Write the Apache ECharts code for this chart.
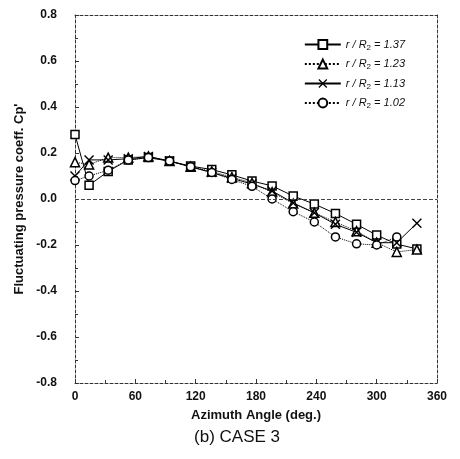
<!DOCTYPE html>
<html><head><meta charset="utf-8">
<script src="https://cdn.jsdelivr.net/npm/echarts@6/dist/echarts.min.js"></script>
<style>html,body{margin:0;padding:0;background:#fff}#c{width:460px;height:459px}</style>
</head><body><div id="c"></div>
<script>
var angles = [0, 14, 33, 53, 73, 94, 115, 136, 156, 176, 196, 217, 238, 259, 280, 300, 320, 340];
var s137 = [0.28, 0.06, 0.12, 0.17, 0.18, 0.165, 0.143, 0.128, 0.105, 0.078, 0.057, 0.013, -0.022, -0.063, -0.11, -0.157, -0.196, -0.217];
var s123 = [0.16, 0.15, 0.18, 0.18, 0.185, 0.165, 0.14, 0.12, 0.095, 0.07, 0.03, -0.02, -0.06, -0.10, -0.14, -0.19, -0.23, -0.22];
var s113 = [0.10, 0.17, 0.17, 0.175, 0.185, 0.165, 0.14, 0.115, 0.09, 0.065, 0.035, -0.017, -0.06, -0.11, -0.145, -0.19, -0.19, -0.105];
var s102 = [0.08, 0.10, 0.125, 0.17, 0.18, 0.165, 0.14, 0.115, 0.085, 0.055, 0.0, -0.055, -0.10, -0.165, -0.195, -0.20, -0.165, null];
var seriesNames = ['1.37', '1.23', '1.13', '1.02'];
var xTicks = [0, 60, 120, 180, 240, 300, 360];
var yTicks = [-0.8, -0.6, -0.4, -0.2, 0.0, 0.2, 0.4, 0.6, 0.8];

function pairs(v){ return angles.map(function(a,i){ return [a, v[i]]; }); }
var xSym = 'path://M0,1L1,0L5,4L9,0L10,1L6,5L10,9L9,10L5,6L1,10L0,9L4,5Z';
var styles = [
  {sym:'rect', size:8, type:'solid'},
  {sym:'triangle', size:9, type:'dotted'},
  {sym:xSym, size:10, type:'solid'},
  {sym:'circle', size:8, type:'dotted'}
];
var dataSets = [s137, s123, s113, s102];
var series = dataSets.map(function(d, i){
  var st = styles[i];
  var isX = i === 2;
  var s = {
    name: seriesNames[i], type:'line', data: pairs(d),
    symbol: st.sym, symbolSize: st.size, showSymbol:true, connectNulls:false,
    lineStyle:{color:'#000', width:1, type: st.type},
    itemStyle: isX ? {color:'#000'} : {color:'#fff', borderColor:'#000', borderWidth:1.5},
    z: 3
  };
  if (i === 0) {
    s.markLine = {silent:true, symbol:'none', label:{show:false},
      lineStyle:{color:'#444', type:[4,2], width:1},
      data:[{yAxis:0}]};
  }
  return s;
});

var chart = echarts.init(document.getElementById('c'));
var lbl = {fontFamily:'Liberation Sans, Arial', fontWeight:'bold', fontSize:12, color:'#111'};
var frameLine = {show:true, onZero:false, lineStyle:{color:'#333', type:[3,2], width:1}};
chart.setOption({
  animation:false,
  backgroundColor:'#fff',
  grid:{left:75, right:23, top:15, bottom:76},
  legend:{
    orient:'vertical', right:50, top:34, itemGap:7, itemWidth:36, itemHeight:11,
    data: seriesNames,
    formatter: function(n){ return '{i|r / R}{s|2}{i| = ' + n + '}'; },
    textStyle:{rich:{
      i:{fontFamily:'Liberation Sans, Arial', fontStyle:'italic', fontSize:11, color:'#111'},
      s:{fontFamily:'Liberation Sans, Arial', fontSize:8, color:'#111', verticalAlign:'bottom', padding:[6,0,0,0]}
    }}
  },
  title:{text:'(b) CASE 3', left:232, top:424, textAlign:'center',
    textStyle:{fontFamily:'Liberation Sans, Arial', fontWeight:'normal', fontSize:17, color:'#111'}},
  xAxis:[{
    type:'value', min:0, max:360, interval:60,
    name:'Azimuth Angle (deg.)', nameLocation:'middle', nameGap:26,
    nameTextStyle:{fontFamily:'Liberation Sans, Arial', fontWeight:'bold', fontSize:13, color:'#111'},
    axisLine:frameLine,
    axisTick:{inside:true, length:4, lineStyle:{color:'#333'}},
    minorTick:{show:true, splitNumber:2, length:3, lineStyle:{color:'#333'}},
    axisLabel:Object.assign({margin:8, formatter:function(v){ return xTicks.indexOf(v)>=0 ? String(v) : ''; }}, lbl),
    splitLine:{show:false}
  },{
    type:'value', min:0, max:360, interval:60, position:'top',
    axisLine:frameLine,
    axisTick:{show:false}, axisLabel:{show:false}, splitLine:{show:false}
  }],
  yAxis:[{
    type:'value', min:-0.8, max:0.8, interval:0.2,
    name:"Fluctuating pressure coeff. Cp'", nameLocation:'middle', nameGap:46,
    nameTextStyle:{fontFamily:'Liberation Sans, Arial', fontWeight:'bold', fontSize:13, color:'#111'},
    axisLine:frameLine,
    axisTick:{inside:true, length:4, lineStyle:{color:'#333'}},
    minorTick:{show:true, splitNumber:2, length:3, lineStyle:{color:'#333'}},
    axisLabel:Object.assign({margin:18, formatter:function(v){ return v.toFixed(1); }}, lbl),
    splitLine:{show:false}
  },{
    type:'value', min:-0.8, max:0.8, interval:0.2, position:'right',
    axisLine:frameLine,
    axisTick:{show:false}, axisLabel:{show:false}, splitLine:{show:false}
  }],
  series: series
});
</script></body></html>
